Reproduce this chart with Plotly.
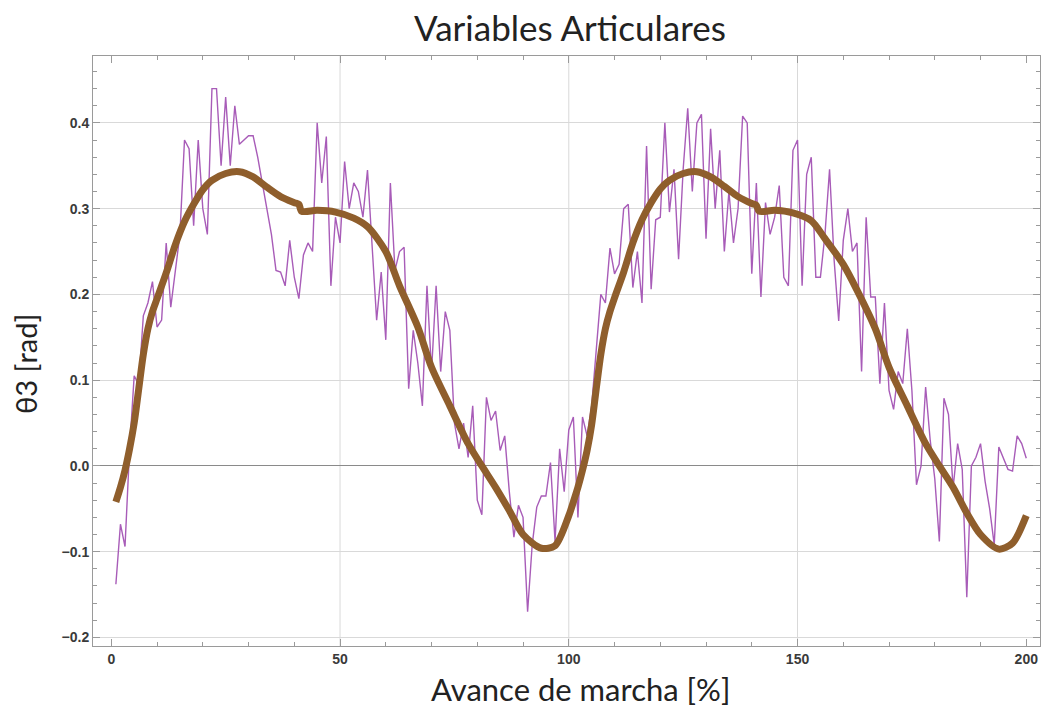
import plotly.graph_objects as go

# ---- data ----
noisy_x = list(range(1, 201))
noisy_y = [
    -0.138, -0.068, -0.094, 0.02, 0.105, 0.095, 0.175, 0.19, 0.215, 0.162,
    0.17, 0.26, 0.185, 0.23, 0.27, 0.38, 0.37, 0.28, 0.38, 0.30,
    0.27, 0.44, 0.44, 0.35, 0.43, 0.35, 0.42, 0.375, 0.38, 0.385,
    0.385, 0.36, 0.33, 0.30, 0.27, 0.228, 0.226, 0.21, 0.263, 0.22,
    0.195, 0.246, 0.26, 0.25, 0.40, 0.33, 0.384, 0.21, 0.29, 0.26,
    0.355, 0.30, 0.33, 0.32, 0.29, 0.345, 0.26, 0.17, 0.226, 0.147,
    0.33, 0.228, 0.25, 0.255, 0.09, 0.158, 0.12, 0.07, 0.21, 0.11,
    0.21, 0.11, 0.18, 0.158, 0.05, 0.02, 0.05, 0.01, 0.07, -0.04,
    -0.057, 0.08, 0.053, 0.064, 0.018, 0.035, -0.03, -0.083, -0.046, -0.06,
    -0.17, -0.092, -0.048, -0.035, -0.035, 0.004, -0.088, 0.02, -0.03, 0.042,
    0.057, -0.06, 0.057, 0.035, 0.07, 0.14, 0.20, 0.19, 0.254, 0.224,
    0.235, 0.30, 0.305, 0.208, 0.25, 0.19, 0.373, 0.206, 0.287, 0.29,
    0.40, 0.296, 0.346, 0.241, 0.346, 0.417, 0.32, 0.40, 0.41, 0.265,
    0.393, 0.30, 0.368, 0.25, 0.32, 0.26, 0.30, 0.408, 0.40, 0.224,
    0.33, 0.197, 0.307, 0.27, 0.29, 0.327, 0.22, 0.21, 0.368, 0.38,
    0.21, 0.34, 0.36, 0.22, 0.22, 0.27, 0.346, 0.24, 0.169, 0.263,
    0.30, 0.25, 0.26, 0.11, 0.29, 0.197, 0.197, 0.096, 0.19, 0.088,
    0.066, 0.11, 0.096, 0.16, 0.088, -0.022, 0.00, 0.092, 0.03, -0.015,
    -0.088, 0.079, 0.06, -0.026, 0.026, -0.004, -0.153, 0.0, 0.01, 0.026,
    -0.018, -0.05, -0.092, 0.022, 0.01, -0.004, -0.006, 0.035, 0.026, 0.009,
]

smooth_x = [
    1, 2, 3, 4, 5, 6, 7, 8, 9, 10, 12, 14, 16, 18, 20, 22, 25, 28, 31, 34,
    37, 40, 41, 41.6, 45, 49, 53, 56, 60, 63, 67, 70, 74, 78, 81, 84, 87, 90, 94, 97,
    100, 101, 102, 103, 104, 105, 106, 107, 108, 109, 110, 112, 114, 116, 118, 120, 122, 125, 128, 131,
    134, 137, 140, 141, 141.6, 145, 149, 153, 156, 160, 163, 167, 170, 174, 178, 181, 184, 187, 190, 194,
    197, 200,
]
smooth_y = [
    -0.042, -0.025, -0.005, 0.02, 0.05, 0.09, 0.13, 0.16, 0.18, 0.195, 0.225, 0.258, 0.285, 0.305, 0.322, 0.333, 0.341, 0.343, 0.337, 0.325,
    0.314, 0.307, 0.305, 0.297, 0.298, 0.296, 0.289, 0.279, 0.25, 0.21, 0.162, 0.115, 0.07, 0.026, 0.0, -0.025, -0.052, -0.08, -0.096, -0.093,
    -0.058, -0.042, -0.025, -0.005, 0.018, 0.048, 0.09, 0.13, 0.16, 0.18, 0.196, 0.226, 0.26, 0.287, 0.307, 0.323, 0.333, 0.341, 0.343, 0.337,
    0.326, 0.314, 0.306, 0.304, 0.297, 0.298, 0.295, 0.286, 0.265, 0.235, 0.205, 0.16, 0.115, 0.07, 0.026, 0.0, -0.025, -0.055, -0.08, -0.097,
    -0.09, -0.058,
]

x_ticks = [0, 50, 100, 150, 200]
y_ticks = [-0.2, -0.1, 0.0, 0.1, 0.2, 0.3, 0.4]
y_tick_text = ["−0.2", "−0.1", "0.0", "0.1", "0.2", "0.3", "0.4"]
x_grid = [50, 100, 150]

title_text = "Variables Articulares"
x_label = "Avance de marcha [%]"
y_label = "θ3 [rad]"

# ---- figure ----
fig = go.Figure()
fig.add_trace(go.Scatter(
    x=noisy_x, y=noisy_y, mode="lines",
    line=dict(color="#a85cb8", width=1.4),
    showlegend=False,
))
fig.add_trace(go.Scatter(
    x=smooth_x, y=smooth_y, mode="lines",
    line=dict(color="#8f5e2c", width=7, shape="spline", smoothing=0.8),
    showlegend=False,
))

for gx in x_grid:
    fig.add_shape(type="line", xref="x", yref="paper", x0=gx, x1=gx, y0=0, y1=1,
                  line=dict(color="#d9d9d9", width=1), layer="below")

tick_font = dict(family="Liberation Sans, Arial, sans-serif", size=14, color="#3a3a3a", weight="bold")
label_font_family = "Lato, Open Sans, sans-serif"

fig.update_layout(
    width=1047, height=714,
    margin=dict(l=93, r=7, t=56, b=68),
    paper_bgcolor="white", plot_bgcolor="white",
    title=dict(text=title_text, x=570 / 1047, xanchor="center", y=1 - 29 / 714, yanchor="middle",
               yref="container", font=dict(family=label_font_family, size=35, color="#222222")),
    annotations=[
        dict(text=x_label, xref="paper", yref="paper", x=(580 - 93) / 947, y=-(689 - 646) / 590,
             xanchor="center", yanchor="middle", showarrow=False,
             font=dict(family=label_font_family, size=31, color="#222222")),
        dict(text=y_label, xref="paper", yref="paper", x=-(93 - 25) / 947, y=(646 - 364) / 590,
             xanchor="center", yanchor="middle", showarrow=False, textangle=-90,
             font=dict(family=label_font_family, size=29, color="#222222")),
    ],
)

fig.update_xaxes(
    range=[-4, 203], tickvals=x_ticks, showgrid=False, zeroline=False,
    showline=True, linecolor="#9a9a9a", linewidth=1, mirror="allticks",
    ticks="inside", ticklen=7, tickcolor="#9a9a9a", tickfont=tick_font,
    minor=dict(dtick=10, tick0=0, ticks="inside", ticklen=4, tickcolor="#9a9a9a", showgrid=False),
)
fig.update_yaxes(
    range=[-0.21, 0.478], tickvals=y_ticks, ticktext=y_tick_text,
    showgrid=True, gridcolor="#d9d9d9", gridwidth=1,
    zeroline=True, zerolinecolor="#8a8a8a", zerolinewidth=1.2,
    showline=True, linecolor="#9a9a9a", linewidth=1, mirror="allticks",
    ticks="inside", ticklen=7, tickcolor="#9a9a9a", tickfont=tick_font,
    minor=dict(dtick=0.02, tick0=0, ticks="inside", ticklen=4, tickcolor="#9a9a9a", showgrid=False),
)

fig.write_html("out.html")
